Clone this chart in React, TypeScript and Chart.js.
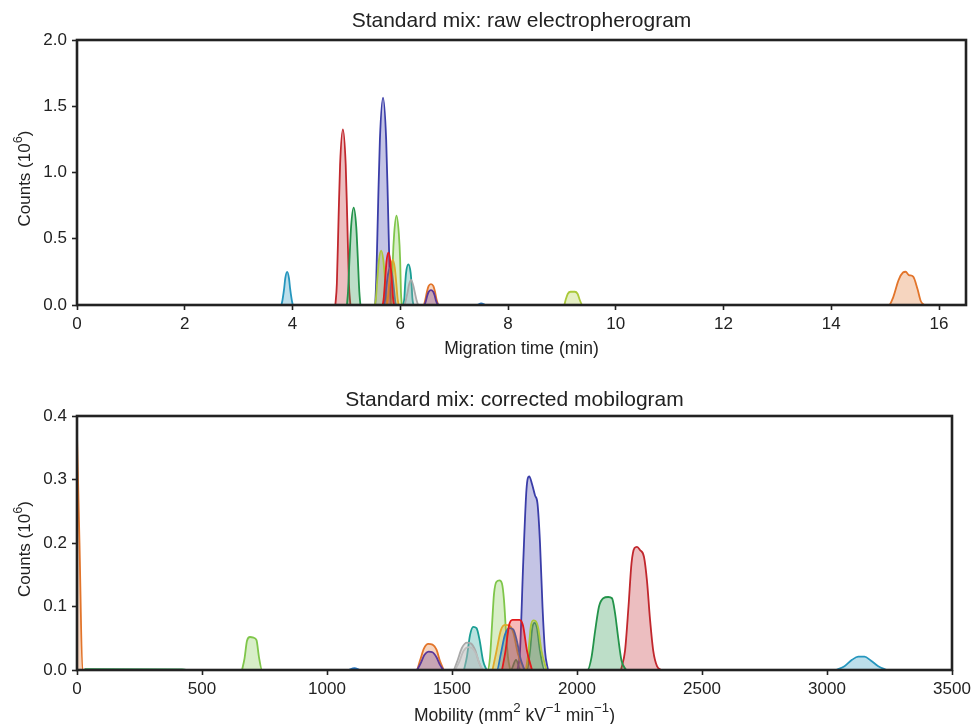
import React, { useEffect, useRef } from "react";
import { Chart, registerables } from "chart.js";
Chart.register(...registerables);

type Pt = [number, number];
type Seg = [string, boolean]; // [text, isSuperscript]

// ---------------- Top panel: raw electropherogram (x: min, y: 10^6 counts) ----------------
const rawTitle = "Standard mix: raw electropherogram";
const rawXLabel: Seg[] = [["Migration time (min)", false]];
const rawYLabel: Seg[] = [["Counts (10", false], ["6", true], [")", false]];
const rawXTicks = [0, 2, 4, 6, 8, 10, 12, 14, 16];
const rawYTicks = [0, 0.5, 1.0, 1.5, 2.0];
const rawXRange: Pt = [0, 16.5];
const rawYRange: Pt = [0, 2.0];

const rawCyan: Pt[] = [[3.795, 0], [3.815, 0.04], [3.845, 0.125], [3.865, 0.2], [3.9, 0.25], [3.935, 0.2], [3.955, 0.125], [3.985, 0.04], [4.005, 0]];
const rawRedDark: Pt[] = [[4.795, 0], [4.823, 0.16], [4.855, 0.66], [4.883, 1.06], [4.935, 1.325], [4.987, 1.06], [5.015, 0.66], [5.047, 0.16], [5.075, 0]];
const rawGreen: Pt[] = [[5.01, 0], [5.03, 0.1], [5.06, 0.37], [5.087, 0.59], [5.135, 0.735], [5.183, 0.59], [5.21, 0.37], [5.24, 0.1], [5.26, 0]];
const rawNavy: Pt[] = [[5.535, 0], [5.555, 0.2], [5.59, 0.78], [5.622, 1.25], [5.68, 1.565], [5.738, 1.25], [5.77, 0.78], [5.805, 0.2], [5.825, 0]];
const rawLightGreen: Pt[] = [[5.83, 0], [5.848, 0.1], [5.862, 0.34], [5.887, 0.54], [5.93, 0.674], [5.973, 0.54], [5.998, 0.34], [6.012, 0.1], [6.03, 0]];
const rawYellowGreen: Pt[] = [
  [5.53, 0], [5.55, 0.06], [5.575, 0.2], [5.605, 0.34], [5.645, 0.41], [5.685, 0.34], [5.715, 0.2], [5.74, 0.06], [5.765, 0],
  [9.04, 0], [9.07, 0.04], [9.11, 0.085], [9.16, 0.1], [9.24, 0.1], [9.29, 0.085], [9.33, 0.04], [9.37, 0],
];
const rawRedBright: Pt[] = [[5.675, 0], [5.695, 0.06], [5.72, 0.2], [5.745, 0.33], [5.78, 0.395], [5.815, 0.33], [5.84, 0.2], [5.865, 0.06], [5.885, 0]];
const rawGold: Pt[] = [[5.75, 0], [5.77, 0.05], [5.795, 0.17], [5.822, 0.28], [5.86, 0.34], [5.898, 0.28], [5.925, 0.17], [5.95, 0.05], [5.97, 0]];
const rawBlue: Pt[] = [
  [5.7, 0], [5.72, 0.05], [5.745, 0.15], [5.772, 0.23], [5.81, 0.28], [5.848, 0.23], [5.875, 0.15], [5.9, 0.05], [5.92, 0],
  [7.42, 0], [7.5, 0.012], [7.58, 0],
];
const rawTeal: Pt[] = [[6.055, 0], [6.075, 0.05], [6.09, 0.155], [6.108, 0.245], [6.15, 0.307], [6.192, 0.245], [6.21, 0.155], [6.225, 0.05], [6.245, 0]];
const rawGrey: Pt[] = [[6.08, 0], [6.105, 0.04], [6.135, 0.095], [6.16, 0.15], [6.2, 0.19], [6.24, 0.15], [6.27, 0.095], [6.3, 0.04], [6.33, 0]];
const rawOrange: Pt[] = [
  [6.44, 0], [6.465, 0.04], [6.495, 0.1], [6.525, 0.143], [6.57, 0.158], [6.615, 0.143], [6.645, 0.1], [6.675, 0.04], [6.72, 0],
  [15.07, 0], [15.15, 0.06], [15.25, 0.19], [15.33, 0.245], [15.38, 0.251], [15.44, 0.226],
  [15.52, 0.214], [15.6, 0.12], [15.66, 0.03], [15.72, 0],
];
const rawPurple: Pt[] = [[6.45, 0], [6.475, 0.03], [6.5, 0.07], [6.528, 0.1], [6.57, 0.113], [6.612, 0.1], [6.64, 0.07], [6.665, 0.03], [6.7, 0]];

// ---------------- Bottom panel: corrected mobilogram ----------------
const mobTitle = "Standard mix: corrected mobilogram";
const mobXLabel: Seg[] = [
  ["Mobility (mm", false], ["2", true], [" kV", false], ["\u22121", true], [" min", false], ["\u22121", true], [")", false],
];
const mobYLabel: Seg[] = [["Counts (10", false], ["6", true], [")", false]];
const mobXTicks = [0, 500, 1000, 1500, 2000, 2500, 3000, 3500];
const mobYTicks = [0, 0.1, 0.2, 0.3, 0.4];
const mobXRange: Pt = [0, 3500];
const mobYRange: Pt = [0, 0.4];

const mobCyan: Pt[] = [[3036, 0], [3070, 0.006], [3100, 0.016], [3125, 0.021], [3150, 0.021], [3175, 0.015], [3205, 0.006], [3239, 0]];
const mobRedDark: Pt[] = [
  [2176, 0], [2192, 0.03], [2206, 0.1], [2218, 0.168], [2230, 0.192], [2240, 0.194], [2252, 0.189], [2268, 0.178],
  [2280, 0.14], [2292, 0.08], [2305, 0.03], [2320, 0.006], [2338, 0],
];
const mobGreen: Pt[] = [
  [30, 0.0015], [420, 0.001], [440, 0],
  [1735, 0], [1756, 0.016], [1775, 0],
  [1800, 0], [1812, 0.03], [1821, 0.066], [1830, 0.074], [1840, 0.066], [1852, 0.03], [1870, 0],
  [2042, 0], [2058, 0.02], [2072, 0.06], [2088, 0.1], [2105, 0.113], [2125, 0.115], [2140, 0.113], [2152, 0.09],
  [2165, 0.05], [2178, 0.015], [2196, 0],
];
const mobNavy: Pt[] = [
  [1762, 0], [1772, 0.03], [1785, 0.17], [1798, 0.285], [1809, 0.305], [1820, 0.293], [1832, 0.275], [1842, 0.262],
  [1852, 0.2], [1862, 0.1], [1872, 0.03], [1884, 0],
];
const mobLightGreen: Pt[] = [
  [660, 0], [670, 0.018], [680, 0.046], [692, 0.052], [706, 0.051], [718, 0.047], [728, 0.02], [740, 0],
  [1642, 0], [1652, 0.02], [1660, 0.07], [1668, 0.12], [1678, 0.139], [1690, 0.141], [1700, 0.136], [1708, 0.11],
  [1716, 0.06], [1724, 0.02], [1733, 0],
];
const mobYellowGreen: Pt[] = [[1796, 0], [1806, 0.03], [1815, 0.068], [1825, 0.078], [1835, 0.077], [1845, 0.066], [1858, 0.03], [1878, 0]];
const mobRedBright: Pt[] = [[1700, 0], [1714, 0.03], [1728, 0.07], [1742, 0.079], [1770, 0.079], [1784, 0.07], [1800, 0.03], [1820, 0]];
const mobGold: Pt[] = [[1662, 0], [1678, 0.03], [1695, 0.062], [1712, 0.071], [1730, 0.07], [1746, 0.058], [1764, 0.025], [1790, 0]];
const mobBlue: Pt[] = [
  [1085, 0], [1110, 0.003], [1135, 0],
  [1680, 0], [1695, 0.025], [1712, 0.056], [1730, 0.066], [1745, 0.064], [1760, 0.045], [1774, 0.018], [1790, 0],
];
const mobTeal: Pt[] = [[1548, 0], [1560, 0.022], [1572, 0.055], [1585, 0.068], [1598, 0.066], [1610, 0.048], [1624, 0.015], [1638, 0]];
const mobGrey: Pt[] = [[1508, 0], [1522, 0.015], [1540, 0.035], [1560, 0.043], [1575, 0.042], [1592, 0.032], [1608, 0.012], [1622, 0]];
const mobGreyLight: Pt[] = [[1512, 0], [1528, 0.012], [1546, 0.03], [1566, 0.036], [1582, 0.034], [1598, 0.024], [1610, 0.01], [1622, 0]];
const mobOrange: Pt[] = [
  [0, 0.37], [10, 0.2], [22, 0],
  [1358, 0], [1372, 0.015], [1388, 0.034], [1405, 0.041], [1422, 0.04], [1438, 0.032], [1452, 0.014], [1467, 0],
];
const mobPurple: Pt[] = [[1360, 0], [1374, 0.01], [1390, 0.024], [1406, 0.029], [1422, 0.028], [1438, 0.02], [1452, 0.008], [1465, 0]];

// ---------------- Styles ----------------
const colors: Record<string, string> = {
  cyan: "#2596be",
  redDark: "#c1272d",
  green: "#23934a",
  navy: "#3a3da8",
  lightGreen: "#7fc64a",
  yellowGreen: "#aac93a",
  redBright: "#e31a1c",
  gold: "#e0a92a",
  blue: "#2475c2",
  teal: "#1a9e94",
  grey: "#a9a9a9",
  greyLight: "#bdbdbd",
  orange: "#e2742a",
  purple: "#5a3699",
};

const FONT = "'Liberation Sans', Arial, Helvetica, sans-serif";
const INK = "#222222";

// drawing order: first entry is drawn on top
const rawSeries: [string, Pt[]][] = [
  ["redBright", rawRedBright], ["gold", rawGold], ["blue", rawBlue], ["yellowGreen", rawYellowGreen],
  ["purple", rawPurple], ["orange", rawOrange], ["grey", rawGrey], ["teal", rawTeal],
  ["lightGreen", rawLightGreen], ["navy", rawNavy], ["green", rawGreen], ["redDark", rawRedDark], ["cyan", rawCyan],
];
const mobSeries: [string, Pt[]][] = [
  ["redBright", mobRedBright], ["blue", mobBlue], ["gold", mobGold], ["yellowGreen", mobYellowGreen],
  ["navy", mobNavy], ["green", mobGreen], ["lightGreen", mobLightGreen], ["purple", mobPurple], ["orange", mobOrange],
  ["greyLight", mobGreyLight], ["grey", mobGrey], ["teal", mobTeal], ["redDark", mobRedDark], ["cyan", mobCyan],
];

function withAlpha(hex: string, a: number) {
  const n = parseInt(hex.slice(1), 16);
  return `rgba(${(n >> 16) & 255},${(n >> 8) & 255},${n & 255},${a})`;
}

// draws text with superscripts, centred on (cx, baseline cy); optionally rotated -90deg
function drawRich(ctx: CanvasRenderingContext2D, segs: Seg[], size: number, cx: number, cy: number, rotate: boolean) {
  ctx.save();
  ctx.translate(cx, cy);
  if (rotate) ctx.rotate(-Math.PI / 2);
  const supSize = size * 0.76;
  const widths = segs.map(([t, sup]) => {
    ctx.font = `${sup ? supSize : size}px ${FONT}`;
    return ctx.measureText(t).width;
  });
  const total = widths.reduce((a, b) => a + b, 0);
  let x = -total / 2;
  ctx.textAlign = "left";
  ctx.textBaseline = "alphabetic";
  ctx.fillStyle = INK;
  segs.forEach(([t, sup], i) => {
    ctx.font = `${sup ? supSize : size}px ${FONT}`;
    ctx.fillText(t, x, sup ? -size * 0.5 : 0);
    x += widths[i];
  });
  ctx.restore();
}

interface PanelOpts {
  title: string;
  titleY: number;
  topPad: number;
  xLabel: Seg[];
  xLabelBaseline: number;
  yLabel: Seg[];
  xRange: Pt;
  yRange: Pt;
  xTicks: number[];
  yTicks: number[];
  series: [string, Pt[]][];
  rightPad: number;
  xAxisHeight: number;
}

function framePlugin(o: PanelOpts) {
  return {
    id: "frameAndTitles",
    afterDraw(chart: any) {
      const { ctx, chartArea: a } = chart;
      ctx.save();
      ctx.strokeStyle = INK;
      ctx.lineWidth = 2.6;
      ctx.strokeRect(a.left, a.top, a.right - a.left, a.bottom - a.top);
      ctx.fillStyle = INK;
      ctx.font = `21px ${FONT}`;
      ctx.textAlign = "center";
      ctx.textBaseline = "middle";
      ctx.fillText(o.title, (a.left + a.right) / 2, o.titleY);
      ctx.restore();
      drawRich(ctx, o.xLabel, 17.5, (a.left + a.right) / 2, o.xLabelBaseline, false);
      drawRich(ctx, o.yLabel, 17, 30, (a.top + a.bottom) / 2 + 6, true);
    },
  };
}

function makeConfig(o: PanelOpts): any {
  return {
    type: "line",
    data: {
      datasets: o.series.map(([key, pts]) => ({
        label: key,
        data: pts.map(([x, y]) => ({ x, y })),
        borderColor: colors[key],
        backgroundColor: withAlpha(colors[key], 0.3),
        borderWidth: 1.8,
        fill: "origin",
        pointRadius: 0,
        cubicInterpolationMode: "monotone",
      })),
    },
    options: {
      responsive: false,
      animation: false,
      devicePixelRatio: 1,
      layout: { padding: { left: 0, right: o.rightPad, top: o.topPad, bottom: 0 } },
      plugins: {
        legend: { display: false },
        tooltip: { enabled: false },
        title: { display: false },
      },
      scales: {
        x: {
          type: "linear",
          min: o.xRange[0],
          max: o.xRange[1],
          afterBuildTicks: (s: any) => {
            s.ticks = o.xTicks.map((v) => ({ value: v }));
          },
          afterFit: (s: any) => {
            s.height = o.xAxisHeight;
            s.paddingLeft = 0;
            s.paddingRight = 0;
          },
          grid: { drawOnChartArea: false, drawTicks: true, tickLength: 5, tickWidth: 1.6, tickColor: INK },
          border: { display: false },
          ticks: {
            autoSkip: false,
            maxRotation: 0,
            padding: 4,
            color: INK,
            font: { family: FONT, size: 17 },
            callback: (v: any) => String(v),
          },
          title: { display: false },
        },
        y: {
          type: "linear",
          min: o.yRange[0],
          max: o.yRange[1],
          afterBuildTicks: (s: any) => {
            s.ticks = o.yTicks.map((v) => ({ value: v }));
          },
          afterFit: (s: any) => {
            s.width = 77;
            s.paddingTop = 0;
            s.paddingBottom = 0;
          },
          grid: { drawOnChartArea: false, drawTicks: true, tickLength: 5, tickWidth: 1.6, tickColor: INK },
          border: { display: false },
          ticks: {
            padding: 5,
            color: INK,
            font: { family: FONT, size: 17 },
            callback: (v: any) => Number(v).toFixed(1),
          },
          title: { display: false },
        },
      },
    },
    plugins: [framePlugin(o)],
  };
}

export default function App() {
  const topRef = useRef<HTMLCanvasElement>(null);
  const botRef = useRef<HTMLCanvasElement>(null);

  useEffect(() => {
    document.body.style.margin = "0";
    document.body.style.overflow = "hidden";
    const c1 = new Chart(
      topRef.current!,
      makeConfig({
        title: rawTitle,
        titleY: 21,
        topPad: 40,
        xLabel: rawXLabel,
        xLabelBaseline: 354,
        yLabel: rawYLabel,
        xRange: rawXRange,
        yRange: rawYRange,
        xTicks: rawXTicks,
        yTicks: rawYTicks,
        series: rawSeries,
        rightPad: 6,
        xAxisHeight: 57,
      })
    );
    const c2 = new Chart(
      botRef.current!,
      makeConfig({
        title: mobTitle,
        titleY: 38,
        topPad: 54,
        xLabel: mobXLabel,
        xLabelBaseline: 359,
        yLabel: mobYLabel,
        xRange: mobXRange,
        yRange: mobYRange,
        xTicks: mobXTicks,
        yTicks: mobYTicks,
        series: mobSeries,
        rightPad: 20,
        xAxisHeight: 54,
      })
    );
    return () => {
      c1.destroy();
      c2.destroy();
    };
  }, []);

  return (
    <div style={{ width: 972, height: 724, background: "#ffffff" }}>
      <canvas ref={topRef} width={972} height={362} style={{ display: "block" }} />
      <canvas ref={botRef} width={972} height={362} style={{ display: "block" }} />
    </div>
  );
}
